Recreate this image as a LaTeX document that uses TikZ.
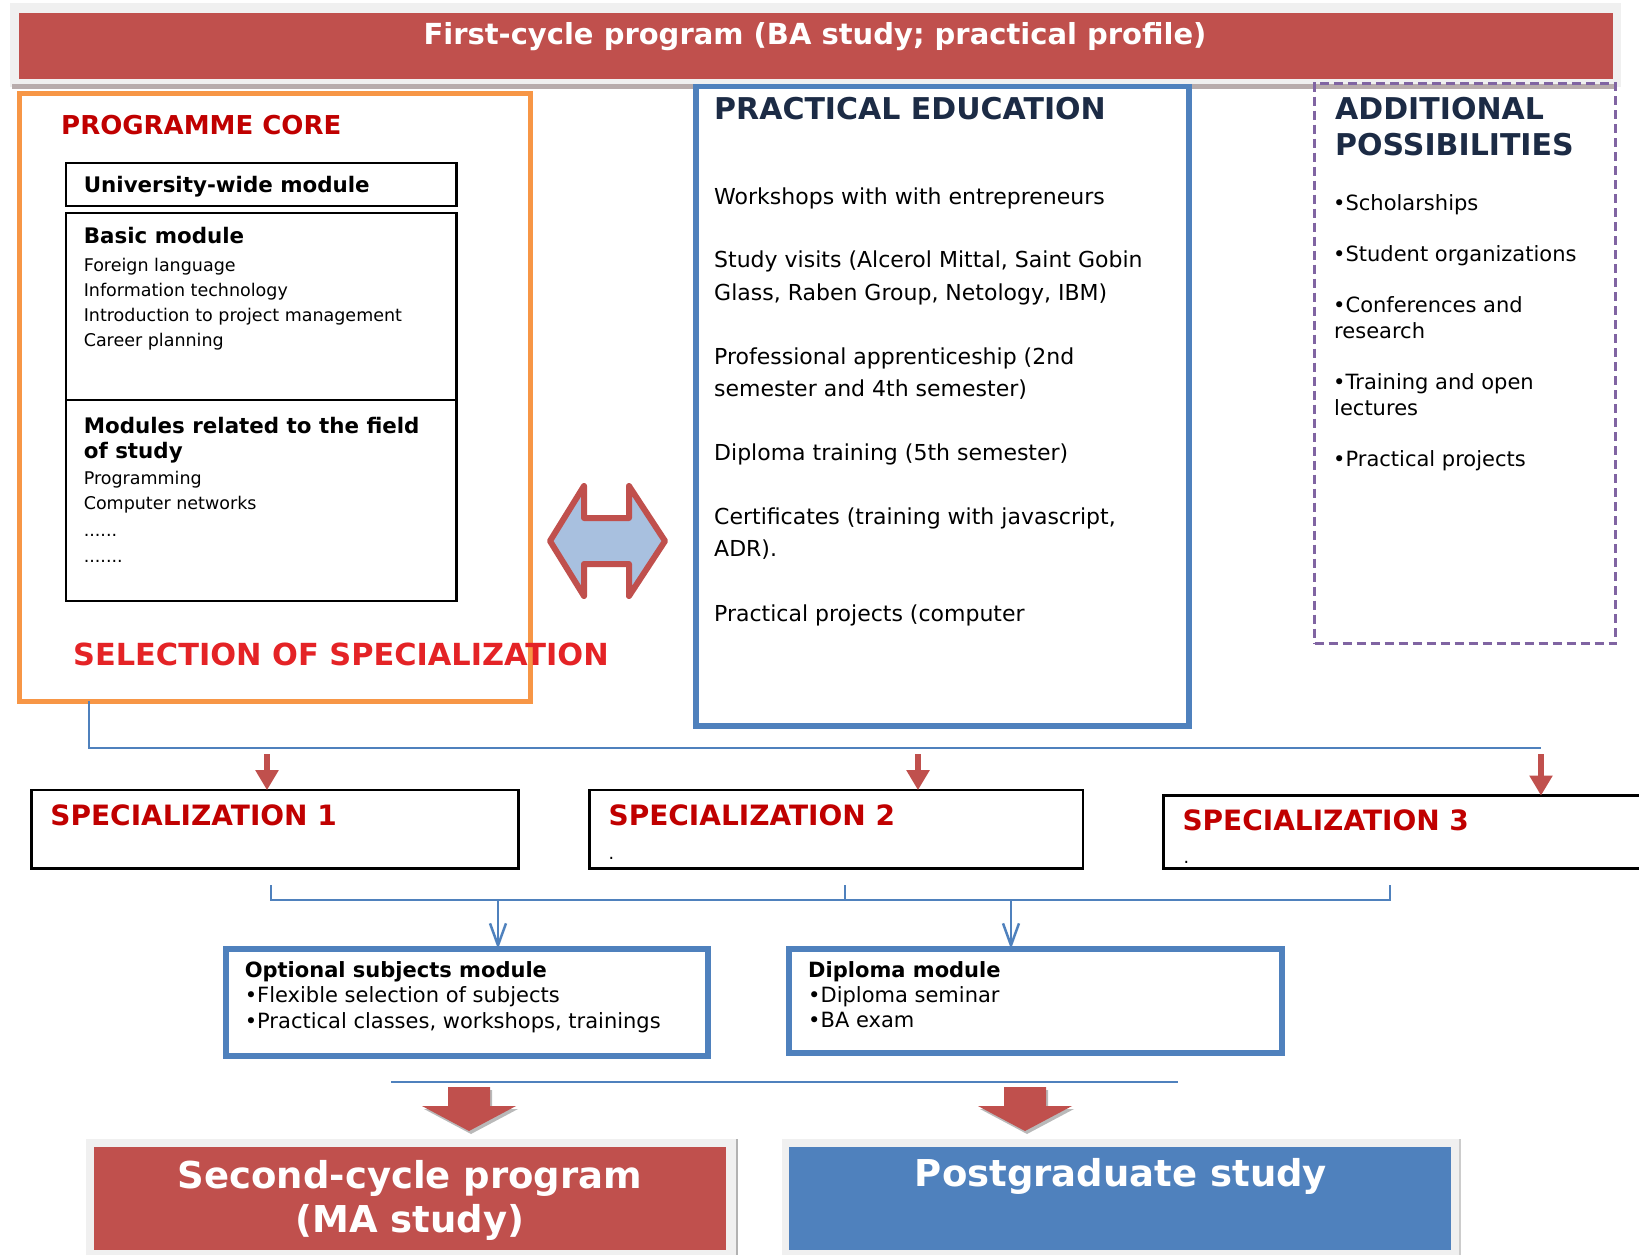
\documentclass[tikz,border=0pt]{standalone}
\usepackage{fontspec}
\setmainfont{DejaVu Sans}
\usetikzlibrary{arrows.meta}

\definecolor{barred}{HTML}{C0504D}
\definecolor{barblue}{HTML}{4F81BD}
\definecolor{coreorange}{HTML}{F79646}
\definecolor{addpurple}{HTML}{8064A2}
\definecolor{headred}{HTML}{C00000}
\definecolor{selred}{HTML}{E42326}
\definecolor{navy}{HTML}{1C2B45}
\definecolor{arrowfill}{HTML}{A8C0DF}
\definecolor{framegray}{HTML}{F0F0F0}
\definecolor{barshadow}{HTML}{B8ACAC}

\newcommand{\fsz}[1]{\fontsize{#1}{#1}\selectfont}

\tikzset{
  boxframe/.style={rectangle, anchor=north west, inner sep=0pt, outer sep=0pt},
  corebox/.style={boxframe, draw=coreorange, line width=5pt},
  pebox/.style={boxframe, draw=barblue, line width=5.5pt},
  addbox/.style={boxframe, draw=addpurple, line width=3pt, dash pattern=on 9pt off 5pt},
  modbox/.style={boxframe, draw=black, line width=2.5pt},
  subbox/.style={boxframe, draw=barblue, line width=6pt},
  fillbox/.style={boxframe},
  txt/.style={anchor=mid west, inner sep=0pt, yshift=-6pt},
  headtxt/.style={txt, font={\bfseries\fsz{26}}, text=headred},
  modhead/.style={txt, font={\bfseries\fsz{21.4}}},
  moditem/.style={txt, font={\fsz{17.5}}},
  petitle/.style={txt, font={\bfseries\fsz{30}}, text=navy},
  peitem/.style={txt, font={\fsz{22}}},
  additem/.style={txt, font={\fsz{21}}},
  spectxt/.style={txt, font={\bfseries\fsz{28}}, text=headred},
  subhead/.style={txt, font={\bfseries\fsz{21}}},
  subitem/.style={txt, font={\fsz{21}}},
  bigtxt/.style={anchor=mid, inner sep=0pt, yshift=-10pt, font={\bfseries\fsz{37}}, text=white},
  buslink/.style={draw=barblue, line width=2.5pt},
  redarrow/.style={draw=barred, line width=6pt, -{Triangle[width=22pt,length=20pt]}},
  bluearrow/.style={draw=barblue, line width=2.5pt, -{Straight Barb[width=16pt,length=22pt]}},
}

\begin{document}
\begin{tikzpicture}[x=1pt,y=-1pt]
    \useasboundingbox (0,0) rectangle (1639,1254);
    \clip (0,0) rectangle (1639,1254);

    % first-cycle bar
    \fill[framegray] (10,3) rectangle (1621,87);
    \fill[barshadow] (12,84) rectangle (1614,89);
    \node[fillbox, fill=barred, minimum width=1594pt, minimum height=66pt] (ba) at (19,12.5) {};
    \node[anchor=mid, inner sep=0pt, yshift=-6pt, font={\bfseries\fsz{29}}, text=white] (batxt) at (815,36) {First-cycle program (BA study; practical profile)};

    % programme core
    \node[corebox, minimum width=511pt, minimum height=607.5pt] (core) at (19,93.5) {};
    \node[headtxt] (coretxt) at (61,125.4) {PROGRAMME CORE};
    \node[modbox, minimum width=390.5pt, minimum height=42.6pt] (uni) at (66,163.2) {};
    \node[modbox, minimum width=390.5pt, minimum height=186.8pt] (basic) at (66,213.2) {};
    \node[modbox, minimum width=390.5pt, minimum height=200.8pt] (field) at (66,400) {};
    \node[modhead] (unitxt) at (83.6,184) {University-wide module};
    \node[modhead] (basic0) at (83.6,235) {Basic module};
    \node[moditem] (basic1) at (83.6,262.4) {Foreign language};
    \node[moditem] (basic2) at (83.6,287.5) {Information technology};
    \node[moditem] (basic3) at (83.6,312.5) {Introduction to project management};
    \node[moditem] (basic4) at (83.6,337.6) {Career planning};
    \node[modhead] (field0) at (83.6,424.4) {Modules related to the field};
    \node[modhead] (field1) at (83.6,449.5) {of study};
    \node[moditem] (field2) at (83.6,475.6) {Programming};
    \node[moditem] (field3) at (83.6,500.7) {Computer networks};
    \node[moditem] (field4) at (83.6,528) {......};
    \node[moditem] (field5) at (83.6,554) {.......};
    \node[txt, font={\bfseries\fsz{30.4}}, text=selred] (seltxt) at (73,656.5) {SELECTION OF SPECIALIZATION};

    % two-way arrow
    \filldraw[fill=arrowfill, draw=barred, line width=6pt, line join=round]
        (550,541) -- (584,486) -- (584,518) -- (629,518) -- (629,486) -- (665,541)
        -- (629,596) -- (629,564) -- (584,564) -- (584,596) -- cycle;

    % practical education
    \node[pebox, minimum width=493pt, minimum height=639.5pt] (pe) at (695.8,86.4) {};
    \node[petitle] (petxt) at (714,110.8) {PRACTICAL EDUCATION};
    \node[peitem] (pe1) at (714,195.5) {Workshops with with entrepreneurs};
    \node[peitem] (pe2) at (714,259.2) {Study visits (Alcerol Mittal, Saint Gobin};
    \node[peitem] (pe3) at (714,291.6) {Glass, Raben Group, Netology, IBM)};
    \node[peitem] (pe4) at (714,355.4) {Professional apprenticeship (2nd};
    \node[peitem] (pe5) at (714,387.8) {semester and 4th semester)};
    \node[peitem] (pe6) at (714,451.6) {Diploma training (5th semester)};
    \node[peitem] (pe7) at (714,515.3) {Certificates (training with javascript,};
    \node[peitem] (pe8) at (714,547.7) {ADR).};
    \node[peitem] (pe9) at (714,612.5) {Practical projects (computer};

    % additional possibilities
    \node[addbox, minimum width=301pt, minimum height=560.5pt] (add) at (1314.5,83) {};
    \node[petitle] (addtxt1) at (1335,110.8) {ADDITIONAL};
    \node[petitle] (addtxt2) at (1335,146.3) {POSSIBILITIES};
    \node[additem] (add1) at (1333,201.7) {•Scholarships};
    \node[additem] (add2) at (1333,253) {•Student organizations};
    \node[additem] (add3) at (1333,304.2) {•Conferences and};
    \node[additem] (add4) at (1334,329.3) {research};
    \node[additem] (add5) at (1333,380.5) {•Training and open};
    \node[additem] (add6) at (1334,406.6) {lectures};
    \node[additem] (add7) at (1333,457.8) {•Practical projects};

    % specializations
    \node[modbox, minimum width=486.8pt, minimum height=78.3pt] (spec1) at (31.5,790.2) {};
    \node[modbox, minimum width=493.1pt, minimum height=78.3pt] (spec2) at (589.7,790.2) {};
    \node[modbox, minimum width=520pt, minimum height=72.9pt] (spec3) at (1163.6,795.6) {};
    \node[spectxt] (spec1txt) at (50.2,816.4) {SPECIALIZATION 1};
    \node[spectxt] (spec2txt) at (608.4,816.4) {SPECIALIZATION 2};
    \node[spectxt] (spec3txt) at (1182.3,821.6) {SPECIALIZATION 3};
    \node[moditem] (spec2dot) at (608.4,851) {.};
    \node[moditem] (spec3dot) at (1183.3,855) {.};

    \coordinate (busL) at (89,748);
    \coordinate (busR) at (1541,748);
    \draw[buslink] (core.south -| busL) -- (busL) -- (busR);
    \coordinate (s1top) at (267,754);
    \coordinate (s2top) at (918,754);
    \coordinate (s3top) at (1541,754);
    \draw[redarrow] (s1top) -- (s1top |- spec1.north);
    \draw[redarrow] (s2top) -- (s2top |- spec2.north);
    \draw[redarrow] (s3top) -- (s3top |- spec3.north);

    % modules after specialization
    \coordinate (brL) at (271,885);
    \coordinate (brM) at (845,885);
    \coordinate (brR) at (1390,885);
    \draw[buslink] (brL) -- ++(0,15) -| (brR);
    \draw[buslink] (brM) -- ++(0,15);
    \node[subbox, minimum width=482.2pt, minimum height=107pt] (opt) at (225.6,949) {};
    \node[subbox, minimum width=492.7pt, minimum height=103.8pt] (dip) at (789,949) {};
    \coordinate (optin) at (498,899);
    \coordinate (dipin) at (1011,899);
    \draw[bluearrow] (optin) -- (optin |- opt.north);
    \draw[bluearrow] (dipin) -- (dipin |- dip.north);
    \node[subhead] (opt0) at (244.6,969) {Optional subjects module};
    \node[subitem] (opt1) at (244.6,994) {•Flexible selection of subjects};
    \node[subitem] (opt2) at (244.6,1020) {•Practical classes, workshops, trainings};
    \node[subhead] (dip0) at (808,969) {Diploma module};
    \node[subitem] (dip1) at (808,994) {•Diploma seminar};
    \node[subitem] (dip2) at (808,1019) {•BA exam};

    % next steps
    \coordinate (ln1) at (391,1082);
    \coordinate (ln2) at (1178,1082);
    \draw[buslink] (ln1) -- (ln2);
    \fill[gray!55] (450,1090) -- (492,1090) -- (492,1109) -- (518,1109) -- (471,1134) -- (424,1109) -- (450,1109) -- cycle;
    \fill[barred] (448,1087) -- (490,1087) -- (490,1106) -- (516,1106) -- (469,1131) -- (422,1106) -- (448,1106) -- cycle;
    \fill[gray!55] (1006,1090) -- (1048,1090) -- (1048,1109) -- (1074,1109) -- (1027,1134) -- (980,1109) -- (1006,1109) -- cycle;
    \fill[barred] (1004,1087) -- (1046,1087) -- (1046,1106) -- (1072,1106) -- (1025,1131) -- (978,1106) -- (1004,1106) -- cycle;

    \fill[framegray] (86,1139) rectangle (737,1260);
    \draw[gray!60, line width=1.5pt] (737,1139) -- (737,1260);
    \fill[framegray] (782,1139) rectangle (1460,1260);
    \draw[gray!40, line width=1.5pt] (1460,1139) -- (1460,1260);
    \node[fillbox, fill=barred, minimum width=632pt, minimum height=103pt] (ma) at (94,1147) {};
    \node[fillbox, fill=barblue, minimum width=662pt, minimum height=103pt] (pg) at (789,1147) {};
    \node[bigtxt] (ma1) at (410,1176) {Second-cycle program};
    \node[bigtxt] (ma2) at (410,1220) {(MA study)};
    \node[bigtxt] (pg1) at (1121,1174) {Postgraduate study};
\end{tikzpicture}
\end{document}
